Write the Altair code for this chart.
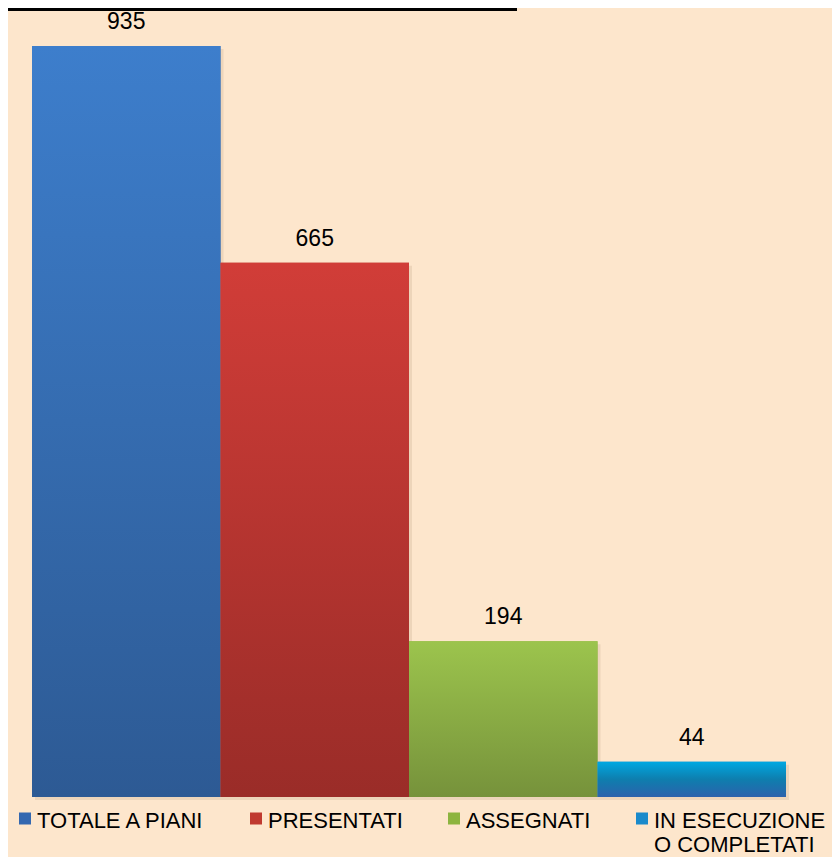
import altair as alt
import pandas as pd

categories = ["TOTALE A PIANI", "PRESENTATI", "ASSEGNATI", "IN ESECUZIONE O COMPLETATI"]
values = [935, 665, 194, 44]
legend_colors = ["#3468B0", "#C0392F", "#8DB43F", "#1A8ACB"]
gradient_stops = [
    [("#3D7ECC", 0), ("#2D5A94", 1)],
    [("#D13D38", 0), ("#9A2C28", 1)],
    [("#9CC44D", 0), ("#76923B", 1)],
    [("#00A8E2", 0), ("#0E7EAE", 0.5), ("#2C62AC", 1)],
]

FONT = "Liberation Sans, Arial, sans-serif"
BG = "#FDE6CC"

df = pd.DataFrame({"cat": categories, "val": values})

x_enc = alt.X("cat:N", sort=categories, axis=None,
              scale=alt.Scale(paddingInner=0, paddingOuter=0))
y_enc = alt.Y("val:Q", axis=None, scale=alt.Scale(domain=[0, 979.8], nice=False, zero=True))

base = alt.Chart(df).encode(x=x_enc, y=y_enc)

label_expr = (
    "datum.label == 'IN ESECUZIONE O COMPLETATI' ? ['IN ESECUZIONE', 'O COMPLETATI'] : [datum.label, '']"
)

legend_layer = base.mark_bar().encode(
    color=alt.Color(
        "cat:N", sort=categories,
        scale=alt.Scale(domain=categories, range=legend_colors),
        legend=alt.Legend(
            title=None, orient="none", legendX=-18, legendY=790,
            direction="horizontal", columns=4, columnPadding=40,
            symbolType="M-1,0.25H1V2.25H-1Z", symbolSize=144, symbolStrokeWidth=0,
            symbolOpacity=1, labelFont=FONT, labelFontSize=22,
            labelColor="black", labelOffset=1, labelLimit=400,
            labelBaseline="top",
            labelExpr=label_expr,
        ),
    )
)

shadow = base.mark_bar(color="#7a5a3a", opacity=0.12, xOffset=3, yOffset=3)

layers = [legend_layer, shadow]
for cat, stops in zip(categories, gradient_stops):
    layers.append(
        base.transform_filter(alt.datum.cat == cat).mark_bar(
            color=alt.Gradient(
                gradient="linear", x1=0, x2=0, y1=0, y2=1,
                stops=[alt.GradientStop(color=c, offset=o) for c, o in stops],
            )
        )
    )

text_layer = base.mark_text(baseline="alphabetic", dy=-17, font=FONT, fontSize=23,
                            color="black").encode(text="val:Q")
layers.append(text_layer)

top_line = alt.Chart(pd.DataFrame({"a": [0]})).mark_rule(color="black", strokeWidth=3).encode(
    x=alt.value(-24), x2=alt.value(485), y=alt.value(-0.5)
)
layers.append(top_line)

chart = alt.layer(*layers).properties(
    width=754, height=787,
    autosize=alt.AutoSizeParams(type="none"),
    padding={"left": 24, "top": 2, "right": 46, "bottom": 60},
    background=BG,
).configure_view(strokeWidth=0)

chart.save("out.html", embed_options={"renderer": "svg", "actions": False})
